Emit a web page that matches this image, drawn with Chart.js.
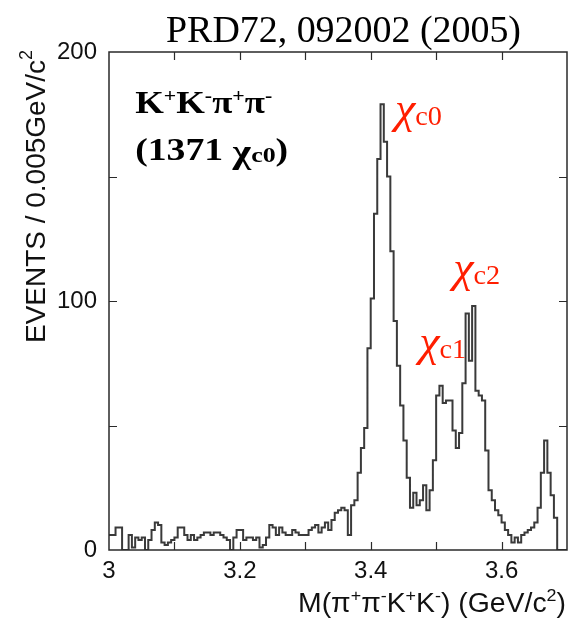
<!DOCTYPE html>
<html>
<head>
<meta charset="utf-8">
<script src="https://cdn.jsdelivr.net/npm/chart.js@4.4.1/dist/chart.umd.min.js"></script>
<style>
  html, body { margin: 0; padding: 0; background: #ffffff; }
  #wrap { width: 568px; height: 621px; position: relative; }
</style>
</head>
<body>
<div id="wrap"><canvas id="chart" width="568" height="621"></canvas></div>
<script>
// K+K-pi+pi- invariant mass spectrum, 5 MeV bins from 3.000 to 3.700 GeV/c^2
const massMin = 3.0;
const massMax = 3.7;
const binWidth = 0.005;
const events = [
  6, 6, 9, 9, 0, 0, 6, 1, 5, 4,
  5, 0, 4, 8, 11, 10, 3, 2, 3, 4,
  5, 9, 9, 6, 4, 6, 4, 5, 6, 7,
  7, 6, 7, 7, 6, 5, 4, 0, 5, 8,
  8, 4, 5, 5, 4, 5, 1, 2, 5, 10,
  9, 6, 9, 7, 6, 6, 8, 7, 6, 6,
  6, 8, 9, 10, 7, 9, 11, 8, 12, 15,
  16, 17, 16, 6, 18, 20, 31, 41, 49, 81,
  101, 135, 157, 179, 164, 150, 120, 92, 74, 58,
  44, 29, 17, 23, 18, 20, 26, 16, 24, 36,
  62, 66, 59, 60, 60, 48, 41, 47, 67, 95,
  76, 98, 64, 62, 60, 40, 24, 20, 16, 14,
  11, 8, 6, 3, 5, 3, 6, 7, 8, 9,
  11, 17, 31, 44, 31, 22, 13, 0, 0, 0
];
const xTickLabels = [3, 3.2, 3.4, 3.6];
const yTickLabels = [0, 100, 200];
const peakNames = ['c0', 'c1', 'c2'];
const peakLabelAt = [[3.437, 170.5], [3.474, 77], [3.526, 107]];

const SERIF = '"Liberation Serif", "Times New Roman", serif';
const SANS = '"Liberation Sans", Arial, Helvetica, sans-serif';

// bin edges -> stepped outline points
const points = events.map((v, i) => ({ x: massMin + i * binWidth, y: v }));
points.push({ x: massMin + events.length * binWidth, y: events[events.length - 1] });

// draws a run of text pieces (with raised/lowered parts), stretched to a given width
function drawRich(ctx, segs, x, y, width, rotate) {
  let natural = 0;
  segs.forEach(s => { ctx.font = s.f; natural += ctx.measureText(s.t).width; });
  ctx.save();
  ctx.translate(x, y);
  if (rotate) ctx.rotate(-Math.PI / 2);
  ctx.scale(width ? width / natural : 1, 1);
  ctx.textBaseline = 'alphabetic';
  ctx.textAlign = 'left';
  let cx = 0;
  segs.forEach(s => {
    ctx.font = s.f;
    ctx.fillText(s.t, cx, s.dy || 0);
    cx += ctx.measureText(s.t).width;
  });
  ctx.restore();
}

const near = (a, b) => Math.abs(a - b) < 1e-6;

const frameAndText = {
  id: 'frameAndText',
  afterDatasetsDraw(chart) {
    const { ctx, chartArea: a, scales: { x, y } } = chart;
    ctx.save();
    // frame
    ctx.strokeStyle = '#2a2a2a';
    ctx.lineWidth = 1.5;
    ctx.strokeRect(a.left, a.top, a.right - a.left, a.bottom - a.top);
    // inward ticks on all four sides
    ctx.lineWidth = 1.2;
    ctx.beginPath();
    x.ticks.forEach(t => {
      if (near(t.value, x.min) || near(t.value, x.max)) return;
      const px = Math.round(x.getPixelForValue(t.value)) + 0.5;
      ctx.moveTo(px, a.bottom); ctx.lineTo(px, a.bottom - 8);
      ctx.moveTo(px, a.top); ctx.lineTo(px, a.top + 8);
    });
    y.ticks.forEach(t => {
      if (near(t.value, y.min) || near(t.value, y.max)) return;
      const py = Math.round(y.getPixelForValue(t.value)) + 0.5;
      ctx.moveTo(a.left, py); ctx.lineTo(a.left + 8, py);
      ctx.moveTo(a.right, py); ctx.lineTo(a.right - 8, py);
    });
    ctx.stroke();

    // reaction and yield
    ctx.fillStyle = '#000000';
    const B = `bold 32px ${SERIF}`, BS = `bold 19px ${SERIF}`;
    drawRich(ctx, [
      { t: 'K', f: B }, { t: '+', f: BS, dy: -11 }, { t: 'K', f: B }, { t: '-', f: BS, dy: -11 },
      { t: 'π', f: B }, { t: '+', f: BS, dy: -11 }, { t: 'π', f: B }, { t: '-', f: BS, dy: -11 }
    ], x.getPixelForValue(3.04), y.getPixelForValue(175.5), 137);
    drawRich(ctx, [
      { t: '(1371 ', f: B }, { t: 'χ', f: `bold 34px ${SERIF}`, dy: 3 },
      { t: 'c0', f: `bold 22px ${SERIF}`, dy: 2 }, { t: ')', f: B }
    ], x.getPixelForValue(3.04), y.getPixelForValue(156.5), 153);

    // charmonium peak names
    ctx.fillStyle = '#ff1e00';
    peakNames.forEach((n, i) => {
      const [mx, my] = peakLabelAt[i];
      drawRich(ctx, [{ t: 'χ', f: `italic 44px ${SERIF}`, dy: -2 }, { t: n, f: `27px ${SERIF}` }],
        x.getPixelForValue(mx), y.getPixelForValue(my), 47);
    });
    ctx.restore();
  },
  afterDraw(chart) {
    const { ctx } = chart;
    ctx.save();
    ctx.fillStyle = '#000000';
    drawRich(ctx, [{ t: 'PRD72, 092002 (2005)', f: `37px ${SERIF}` }], 166, 42, 355);
    ctx.fillStyle = '#111111';
    const S = `27px ${SANS}`, SS = `17px ${SANS}`;
    drawRich(ctx, [
      { t: 'M(π', f: S }, { t: '+', f: SS, dy: -11 }, { t: 'π', f: S }, { t: '-', f: SS, dy: -11 },
      { t: 'K', f: S }, { t: '+', f: SS, dy: -11 }, { t: 'K', f: S }, { t: '-', f: SS, dy: -11 },
      { t: ') (GeV/c', f: S }, { t: '2', f: SS, dy: -11 }, { t: ')', f: S }
    ], 298, 612, 268);
    drawRich(ctx, [
      { t: 'EVENTS / 0.005GeV/c', f: `28px ${SANS}` }, { t: '2', f: `18px ${SANS}`, dy: -13 }
    ], 45, 343, 293, true);
    ctx.restore();
  }
};

new Chart(document.getElementById('chart'), {
  type: 'line',
  data: {
    datasets: [{
      data: points,
      stepped: true,
      borderColor: '#3a3a3a',
      borderWidth: 2,
      pointRadius: 0,
      fill: false,
      tension: 0
    }]
  },
  options: {
    responsive: false,
    animation: false,
    devicePixelRatio: 1,
    layout: { padding: { top: 52, right: 1, left: 0, bottom: 0 } },
    plugins: { legend: { display: false }, tooltip: { enabled: false }, title: { display: false } },
    scales: {
      x: {
        type: 'linear',
        min: massMin,
        max: massMax,
        grid: { display: false, drawTicks: false },
        border: { display: false },
        ticks: {
          stepSize: 0.1,
          autoSkip: false,
          maxRotation: 0,
          padding: 7,
          color: '#111111',
          font: { family: SANS, size: 24 },
          callback: v => {
            const r = Math.round(v * 10) / 10;
            return xTickLabels.some(l => near(l, r)) ? String(r) : '';
          }
        },
        afterFit: s => { s.height = 71; s.paddingLeft = 0; s.paddingRight = 0; }
      },
      y: {
        min: 0,
        max: 200,
        grid: { display: false, drawTicks: false },
        border: { display: false },
        ticks: {
          stepSize: 50,
          padding: 12,
          color: '#111111',
          font: { family: SANS, size: 24 },
          callback: v => (yTickLabels.includes(v) ? String(v) : '')
        },
        afterFit: s => { s.width = 109; }
      }
    }
  },
  plugins: [frameAndText]
});
</script>
</body>
</html>
